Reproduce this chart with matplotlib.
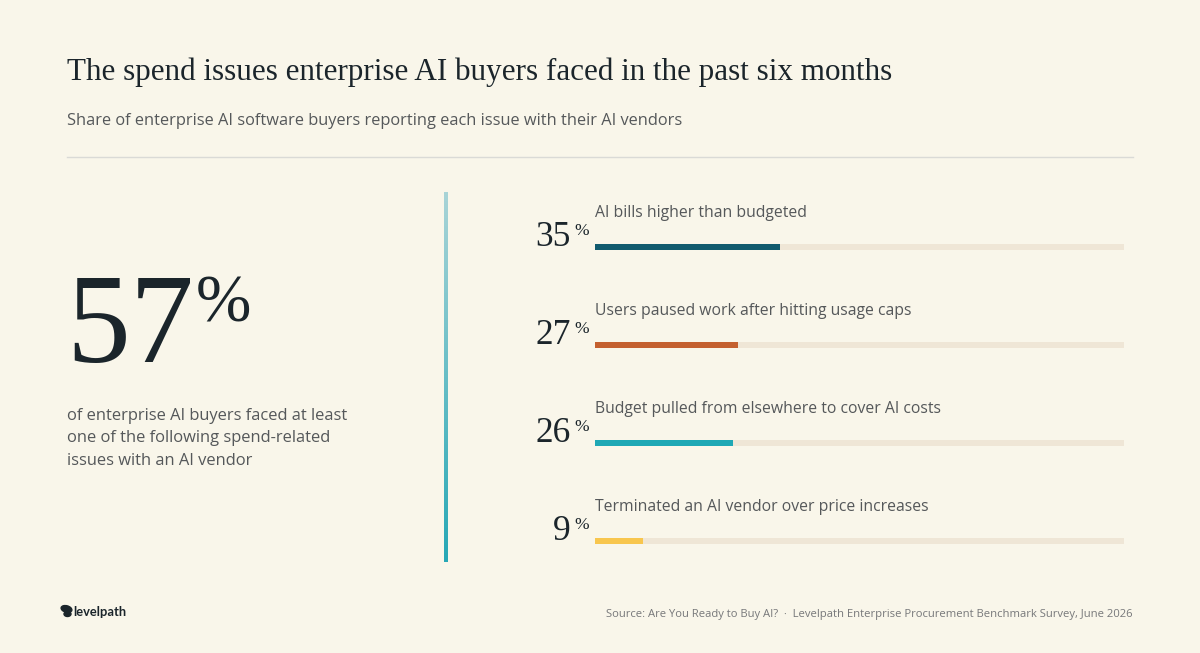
import numpy as np
import matplotlib
matplotlib.use("Agg")
import matplotlib.pyplot as plt
from matplotlib.colors import LinearSegmentedColormap
from matplotlib.patches import Ellipse

W, H = 1200, 653
BG = "#F9F6EA"
INK = "#1B252B"
GREY = "#55585A"

title = "The spend issues enterprise AI buyers faced in the past six months"
subtitle = "Share of enterprise AI software buyers reporting each issue with their AI vendors"
headline = "57"
headline_lines = ["of enterprise AI buyers faced at least",
                  "one of the following spend-related",
                  "issues with an AI vendor"]
labels = ["AI bills higher than budgeted",
          "Users paused work after hitting usage caps",
          "Budget pulled from elsewhere to cover AI costs",
          "Terminated an AI vendor over price increases"]
values = [35, 27, 26, 9]
colors = ["#125B6E", "#C4602F", "#1FA8B5", "#F8C64E"]
source = "Source: Are You Ready to Buy AI?  ·  Levelpath Enterprise Procurement Benchmark Survey, June 2026"

SERIF = "Liberation Serif"
SANS = "Open Sans"

fig = plt.figure(figsize=(W / 100, H / 100), dpi=100, facecolor=BG)

# page axes in pixels, y down
page = fig.add_axes([0, 0, 1, 1])
page.set_xlim(0, W)
page.set_ylim(H, 0)
page.axis("off")

page.text(67, 72, title, family=SERIF, fontsize=22.4, color=INK, va="center")
page.text(67, 121, subtitle, family=SANS, fontsize=11.75, color=GREY, va="center")
page.plot([67, 1133], [157, 157], color="#DADAD6", lw=1)

page.text(66, 362, headline, family=SERIF, fontsize=92, color=INK, va="baseline")
page.text(196, 321, "%", family=SERIF, fontsize=48, color=INK, va="baseline")
for i, line in enumerate(headline_lines):
    page.text(67, 416 + i * 22.3, line, family=SANS, fontsize=11.9, color=GREY, va="center")

# vertical gradient rule
cmap = LinearSegmentedColormap.from_list("rule", ["#A9D4D7", "#27A8B6"])
page.imshow(np.linspace(0, 1, 256).reshape(-1, 1), cmap=cmap, aspect="auto",
            extent=(443.5, 447.5, 562, 192), zorder=2)
page.set_xlim(0, W)
page.set_ylim(H, 0)

# bars: full track is 100%
bar_ax = fig.add_axes([595 / W, 1 - 590 / H, 529 / W, 392 / H])
bar_ax.set_xlim(0, 100)
bar_ax.set_ylim(3.5, -0.5)
bar_ax.axis("off")
rows = np.arange(len(values))
bar_ax.barh(rows, [100] * len(values), height=6 / 98, color="#EFE6D6")
bar_ax.barh(rows, values, height=6 / 98, color=colors)

for i, (lab, val) in enumerate(zip(labels, values)):
    y = 247 + i * 98
    page.text(595, y - 34, lab, family=SANS, fontsize=11.37, color=GREY, va="center")
    page.text(571, y - 1, str(val), family=SERIF, fontsize=25.5, color=INK, ha="right", va="baseline")
    page.text(574, y - 12, "%", family=SERIF, fontsize=12.5, color=INK, ha="left", va="baseline")

# logo
page.add_patch(Ellipse((66.5, 609), 11, 6.5, angle=15, color=INK, zorder=3))
page.add_patch(Ellipse((67.5, 614), 7, 5, angle=0, color=INK, zorder=3))
page.text(73, 612, "levelpath", family="Lato", fontweight="bold", fontsize=9.3, color=INK, va="center")

page.text(1133, 615, source, family=SANS, fontsize=8.1, color="#77787A", ha="right", va="center")

fig.savefig("out.png", dpi=100, facecolor=BG)
